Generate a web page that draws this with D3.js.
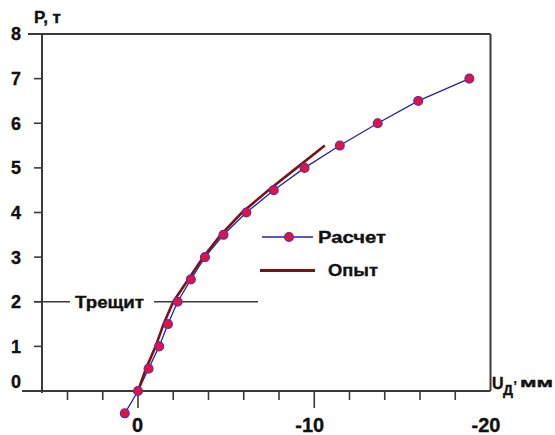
<!DOCTYPE html>
<html><head><meta charset="utf-8">
<script src="https://cdn.jsdelivr.net/npm/d3@7"></script>
<style>body{margin:0;background:#fff}svg{display:block}text{font-family:"Liberation Sans",Arial,sans-serif;font-weight:bold;fill:#111;stroke:#111;stroke-width:0.35px}</style>
</head><body>
<script>
// Data
const calcU = [0.75, 0, -0.6, -1.2, -1.7, -2.25, -3.0, -3.8, -4.85, -6.15, -7.7, -9.45, -11.45, -13.6, -15.9, -18.8];
const calcP = [-0.5, 0, 0.5, 1.0, 1.5, 2.0, 2.5, 3.0, 3.5, 4.0, 4.5, 5.0, 5.5, 6.0, 6.5, 7.0];
const expU = [0, -0.45, -1.0, -1.45, -2.0, -2.85, -3.7, -4.7, -5.9, -7.4, -9.0, -10.6];
const expP = [0, 0.5, 1.0, 1.5, 2.0, 2.5, 3.0, 3.5, 4.0, 4.5, 5.0, 5.5];
const yTicks = [0, 1, 2, 3, 4, 5, 6, 7, 8];
const xMinorTicks = [4, 2, -2, -4, -6, -8, -12, -14, -16, -18];
const xMajorTicks = [0, -10, -20];
const seriesNames = ["Расчет", "Опыт"];
const crackP = 2;
const crackLabel = "Трещит";

const W = 555, H = 435;
const svg = d3.select("body").append("svg").attr("width", W).attr("height", H);
const x = d3.scaleLinear().domain([0, -20]).range([138, 490.5]);
const y = d3.scaleLinear().domain([0, 8]).range([391, 34]);
const axisColor = "#3a3a3a";

// frame: top and right
svg.append("line").attr("x1", 28).attr("x2", x(-20)).attr("y1", y(8)).attr("y2", y(8)).attr("stroke", axisColor).attr("stroke-width", 2);
svg.append("line").attr("x1", x(-20)).attr("x2", x(-20)).attr("y1", y(8)).attr("y2", y(0)).attr("stroke", axisColor).attr("stroke-width", 2);
// left axis
svg.append("line").attr("x1", 42).attr("x2", 42).attr("y1", y(8)).attr("y2", y(0) + 2).attr("stroke", axisColor).attr("stroke-width", 2);
// bottom axis
svg.append("line").attr("x1", 22).attr("x2", x(-20)).attr("y1", y(0)).attr("y2", y(0)).attr("stroke", axisColor).attr("stroke-width", 2);

// y ticks
svg.selectAll(".yt").data(yTicks.filter(d => d > 0 && d < 8)).enter().append("line")
  .attr("x1", 34).attr("x2", 42).attr("y1", d => y(d)).attr("y2", d => y(d))
  .attr("stroke", axisColor).attr("stroke-width", 1.6);
svg.selectAll(".yl").data(yTicks).enter().append("text")
  .attr("x", 21).attr("y", d => y(d) + (d === 0 ? -9 : 0)).attr("dy", "0.36em")
  .attr("text-anchor", "end").attr("font-size", 18).text(d => d);

// x ticks
svg.selectAll(".xtm").data(xMinorTicks).enter().append("line")
  .attr("x1", d => x(d)).attr("x2", d => x(d)).attr("y1", y(0)).attr("y2", y(0) + 9)
  .attr("stroke", axisColor).attr("stroke-width", 1.6);
svg.selectAll(".xtM").data(xMajorTicks.filter(d => d > -20)).enter().append("line")
  .attr("x1", d => x(d)).attr("x2", d => x(d)).attr("y1", y(0)).attr("y2", y(0) + 17)
  .attr("stroke", axisColor).attr("stroke-width", 1.6);
svg.selectAll(".xl").data(xMajorTicks).enter().append("text")
  .attr("x", d => x(d) - (d === 0 ? 0.5 : 4.5)).attr("y", 432)
  .attr("text-anchor", "middle").attr("font-size", 20).text(d => d);

// axis titles
svg.append("text").attr("x", 34).attr("y", 23).attr("font-size", 17).text("P, т");
svg.append("text").attr("x", 492).attr("y", 388.5).attr("font-size", 16).text("U");
svg.append("text").attr("x", 503).attr("y", 395).attr("font-size", 14).text("Д");
svg.append("text").attr("x", 513.5).attr("y", 383).attr("font-size", 12).text(",");
svg.append("text").attr("x", 520).attr("y", 387).attr("font-size", 12)
  .attr("textLength", 33).attr("lengthAdjust", "spacingAndGlyphs").text("мм");

// crack line
svg.append("line").attr("x1", 34).attr("x2", 70).attr("y1", y(crackP)).attr("y2", y(crackP)).attr("stroke", axisColor).attr("stroke-width", 1.6);
svg.append("line").attr("x1", 154).attr("x2", 258).attr("y1", y(crackP)).attr("y2", y(crackP)).attr("stroke", axisColor).attr("stroke-width", 1.6);
svg.append("text").attr("x", 75).attr("y", y(crackP)).attr("dy", "0.36em").attr("font-size", 16)
  .attr("textLength", 69).attr("lengthAdjust", "spacingAndGlyphs").text(crackLabel);

const line = d3.line().x(d => x(d[0])).y(d => y(d[1]));
const calc = calcU.map((u, i) => [u, calcP[i]]);
const exp = expU.map((u, i) => [u, expP[i]]);

const blue = "#2323b0", red = "#e3123e", mstroke = "#6a2aa8", dred = "#7a1414";

svg.append("path").datum(calc).attr("d", line).attr("fill", "none").attr("stroke", blue).attr("stroke-width", 1.3);
svg.append("path").datum(exp).attr("d", line).attr("fill", "none").attr("stroke", dred).attr("stroke-width", 2.6).attr("stroke-linejoin", "round");
svg.selectAll(".pt").data(calc).enter().append("circle")
  .attr("cx", d => x(d[0])).attr("cy", d => y(d[1])).attr("r", 4.4)
  .attr("fill", red).attr("stroke", mstroke).attr("stroke-width", 1.3);

// legend
svg.append("line").attr("x1", 262).attr("x2", 313).attr("y1", 237).attr("y2", 237).attr("stroke", blue).attr("stroke-width", 1.3);
svg.append("circle").attr("cx", 289).attr("cy", 237).attr("r", 4.4).attr("fill", red).attr("stroke", mstroke).attr("stroke-width", 1.3);
svg.append("text").attr("x", 318).attr("y", 237).attr("dy", "0.36em").attr("font-size", 16.5)
  .attr("textLength", 68).attr("lengthAdjust", "spacingAndGlyphs").text(seriesNames[0]);
svg.append("line").attr("x1", 260).attr("x2", 315).attr("y1", 270.5).attr("y2", 270.5).attr("stroke", dred).attr("stroke-width", 3);
svg.append("text").attr("x", 328).attr("y", 270.5).attr("dy", "0.36em").attr("font-size", 16.5)
  .attr("textLength", 50).attr("lengthAdjust", "spacingAndGlyphs").text(seriesNames[1]);
</script>
</body></html>
